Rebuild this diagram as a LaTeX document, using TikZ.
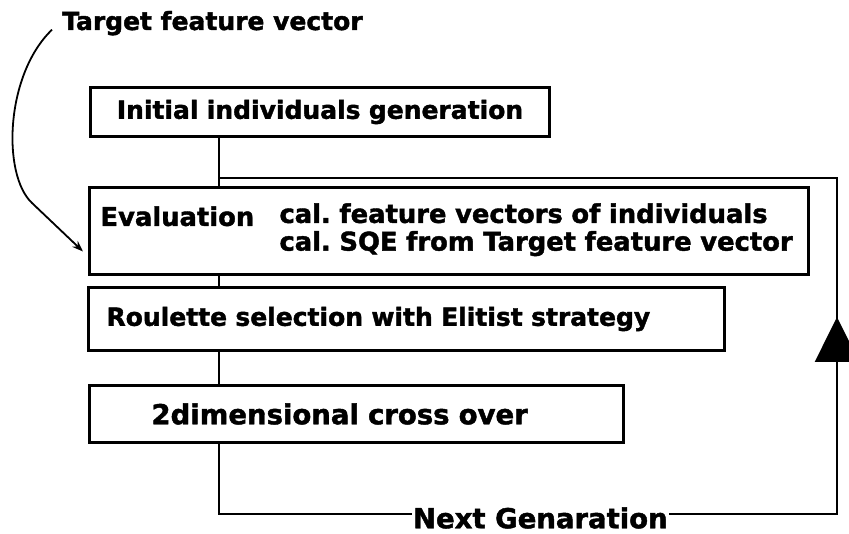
\documentclass[tikz,border=0pt]{standalone}
\usepackage{fontspec}
\usepackage{tikz}
\usetikzlibrary{arrows.meta,positioning,calc,decorations.markings}
\newfontfamily\diagfont{DejaVu Sans}[BoldFeatures={FakeBold=1.6}]

\begin{document}
\frenchspacing
\begin{tikzpicture}[x=1pt,y=-1pt,
 font=\diagfont\bfseries\fontsize{25pt}{27pt}\selectfont,>=Latex,
 box/.style={draw,line width=3pt,anchor=north west,inner ysep=0pt},
 link/.style={line width=2.6pt},
 bigtext/.style={font=\diagfont\bfseries\fontsize{27.5pt}{30pt}\selectfont},
 evaltext/.style={font=\diagfont\bfseries\fontsize{25.8pt}{27pt}\selectfont}]
\useasboundingbox (0,0) rectangle (849,534);
\node[anchor=base west,inner sep=0pt] (target) at (62,30) {Target feature vector};
\node[box,text width=439pt,inner xsep=10pt,minimum height=49pt,align=center] (init) at (89,86)
 {Initial individuals generation};
\node[box,evaltext,text width=697pt,inner xsep=11pt,minimum height=87pt,align=left] (eval) at (88,186)
 {\makebox[179pt][l]{\raisebox{-3pt}{Evaluation}}\begin{tabular}[t]{@{}l@{}}
 cal. feature vectors of individuals\\
 cal. SQE from Target feature vector\end{tabular}};
\node[box,text width=600pt,inner xsep=18pt,minimum height=63pt,align=left] (roul) at (87,286)
 {Roulette selection with Elitist strategy};
\node[box,bigtext,text width=410pt,inner xsep=62pt,minimum height=57pt,align=left] (cross) at (88,384)
 {2dimensional cross over};
% spine and feedback loop
\coordinate (spine) at (219,0);
\coordinate (loopbl) at (219,514);
\coordinate (loopbr) at (837,514);
\coordinate (looptr) at (837,178);
\draw[link] (init.south -| spine) -- (eval.north -| spine);
\draw[link] (eval.south -| spine) -- (roul.north -| spine);
\draw[link] (roul.south -| spine) -- (cross.north -| spine);
\draw[link,postaction=decorate,decoration={markings,
 mark=at position 885pt with {\arrow{Triangle[length=45pt,width=44pt]}}}]
 (cross.south -| spine) -- (loopbl)
 -- node[pos=0.52,fill=white,bigtext,inner xsep=1pt,yshift=-4pt] (nextgen) {Next Genaration} (loopbr)
 -- (looptr) -- (looptr -| spine);
\draw[line width=1.8pt,-{Stealth[length=11pt,width=8pt]}]
 ([shift={(-10,6.5)}]target.west) .. controls (5,75) and (2,175) .. (32,203)
 -- ([shift={(-5,20.5)}]eval.west);
\end{tikzpicture}
\end{document}
